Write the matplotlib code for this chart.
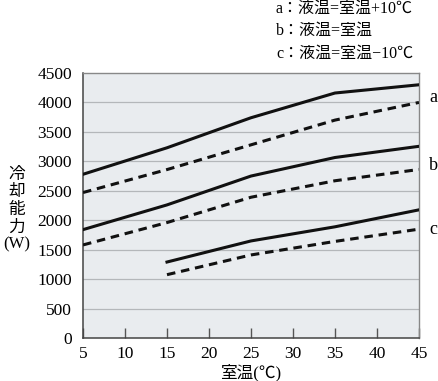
import matplotlib.pyplot as plt

plt.rcParams['font.family'] = ['Liberation Serif', 'Noto Sans CJK JP']

# room temperature (°C)
x_full = [5, 15, 25, 35, 45]
x_c = [15, 25, 35, 45]

a_solid = [2780, 3230, 3740, 4160, 4300]
a_dash = [2470, 2860, 3280, 3700, 4000]
b_solid = [1840, 2260, 2750, 3065, 3255]
b_dash = [1580, 1960, 2390, 2670, 2862]
c_solid = [1290, 1648, 1888, 2176]
c_dash = [1075, 1410, 1640, 1848]

xticks = [5, 10, 15, 20, 25, 30, 35, 40, 45]
yticks = [0, 500, 1000, 1500, 2000, 2500, 3000, 3500, 4000, 4500]
legend_lines = ['a：液温=室温+10℃', 'b：液温=室温', 'c：液温=室温−10℃']

fig = plt.figure(figsize=(4.38, 3.81), dpi=100)
ax = fig.add_axes([0.1895, 0.1129, 0.767, 0.6955])
ax.set_facecolor('#e9ecef')

for v in yticks[1:-1]:
    ax.axhline(v, color='#b4b7ba', lw=0.9, zorder=1)

kw = dict(color='#111111', lw=2.2, zorder=3)
dash = (0, (2.8, 1.9))
ax.plot(x_full, a_solid, **kw)
ax.plot(x_full, a_dash, ls=dash, **kw)
ax.plot(x_full, b_solid, **kw)
ax.plot(x_full, b_dash, ls=dash, **kw)
ax.plot(x_c, c_solid, **kw)
ax.plot(x_c, c_dash, ls=dash, **kw)

ax.set_xlim(5, 45)
ax.set_ylim(0, 4500)
ax.set_xticks(xticks)
ax.set_yticks(yticks)
ax.tick_params(axis='x', direction='in', length=7, width=1, color='#555555',
               labelsize=12.5, pad=6)
ax.tick_params(axis='y', length=0, labelsize=12.5, pad=8)
for s in ['left', 'bottom']:
    ax.spines[s].set_color('#444444')
    ax.spines[s].set_linewidth(1.1)
for s in ['top', 'right']:
    ax.spines[s].set_color('#888888')
    ax.spines[s].set_linewidth(1.0)

ax.set_xlabel('室温(℃)', fontsize=12, labelpad=1)
fig.text(0.038, 0.449, '冷\n却\n能\n力\n(W)', ha='center', va='center',
         fontsize=12, linespacing=1.12)

for lab, yv in zip(['a', 'b', 'c'], [4092, 2937, 1834]):
    ax.text(46.2, yv, lab, fontsize=13, va='center', ha='left', clip_on=False)

for i, t in enumerate(legend_lines):
    fig.text(0.630, 0.978 - i * 0.059, t, fontsize=11.5, ha='left', va='center')

fig.savefig('out.png', dpi=100)
